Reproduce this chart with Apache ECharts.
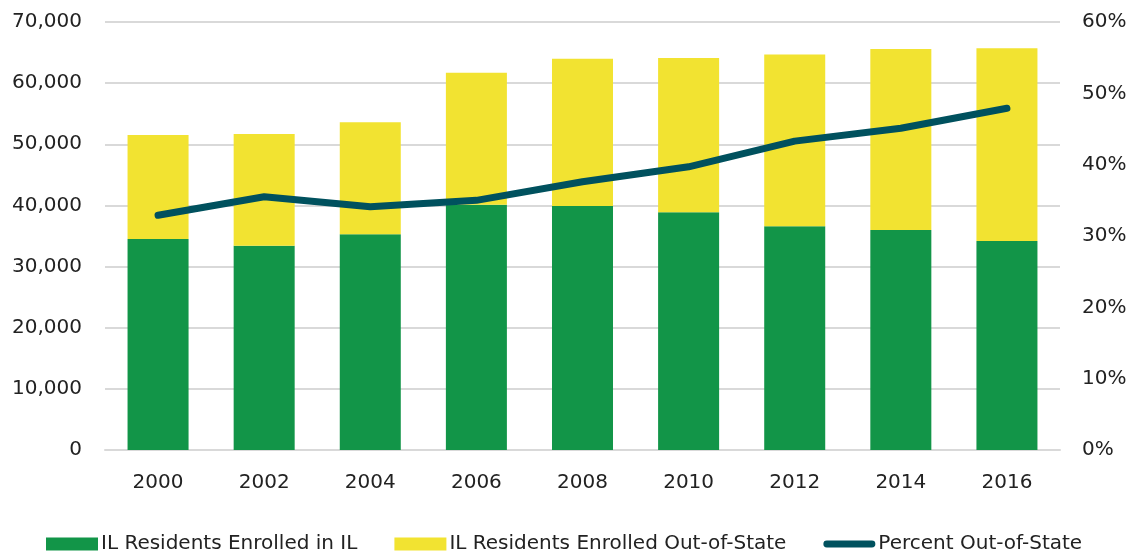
<!DOCTYPE html>
<html>
<head>
<meta charset="utf-8">
<script src="https://cdn.jsdelivr.net/npm/echarts@6/dist/echarts.min.js"></script>
<style>html,body{margin:0;padding:0;background:#fff}#c{width:1133px;height:556px}</style>
</head>
<body>
<div id="c"></div>
<script>
const years = ['2000','2002','2004','2006','2008','2010','2012','2014','2016'];
const inIL = [34500, 33400, 35300, 40100, 39900, 38900, 36600, 36000, 34200];
const outOfState = [17000, 18300, 18300, 21600, 24100, 25200, 28100, 29600, 31500];
const pctOut = [32.9, 35.5, 34.1, 35.0, 37.6, 39.7, 43.3, 45.1, 47.9];
const leftTicks = [0, 70000, 10000];
const rightTicks = [0, 60, 10];

const font = 'DejaVu Sans';
const chart = echarts.init(document.getElementById('c'));
chart.setOption({
  animation: false,
  textStyle: { fontFamily: font },
  grid: { left: 105, right: 73, top: 22, bottom: 106 },
  legend: {
    bottom: -3, left: 41, itemWidth: 52, itemHeight: 13, itemGap: 37,
    textStyle: { fontSize: 20, color: '#222', fontFamily: font, padding: [0,0,0,-2] },
    data: [
      { name: 'IL Residents Enrolled in IL', icon: 'rect' },
      { name: 'IL Residents Enrolled Out-of-State', icon: 'rect' },
      { name: 'Percent Out-of-State', icon: 'path://M4,0 L56,0 A4,4 0 0 1 56,8 L4,8 A4,4 0 0 1 4,0 Z' }
    ]
  },
  xAxis: {
    type: 'category', data: years,
    axisLine: { lineStyle: { color: '#d9d9d9', width: 2 } },
    axisTick: { show: false },
    axisLabel: { fontSize: 20, color: '#222', margin: 23, fontFamily: font }
  },
  yAxis: [
    {
      type: 'value', min: leftTicks[0], max: leftTicks[1], interval: leftTicks[2],
      axisLine: { show: false }, axisTick: { show: false },
      splitLine: { lineStyle: { color: '#d9d9d9', width: 2 } },
      axisLabel: { fontSize: 20, color: '#222', margin: 23, fontFamily: font,
        formatter: v => v.toLocaleString('en-US') }
    },
    {
      type: 'value', min: rightTicks[0], max: rightTicks[1], interval: rightTicks[2],
      axisLine: { show: false }, axisTick: { show: false }, splitLine: { show: false },
      axisLabel: { fontSize: 20, color: '#222', margin: 22, fontFamily: font,
        formatter: v => v + '%' }
    }
  ],
  series: [
    { name: 'IL Residents Enrolled in IL', type: 'bar', stack: 't', data: inIL,
      barCategoryGap: '42.5%', itemStyle: { color: '#129548' } },
    { name: 'IL Residents Enrolled Out-of-State', type: 'bar', stack: 't', data: outOfState,
      itemStyle: { color: '#f2e331' } },
    { name: 'Percent Out-of-State', type: 'line', yAxisIndex: 1, data: pctOut,
      symbol: 'none', lineStyle: { color: '#00515e', width: 7, cap: 'round', join: 'round' },
      itemStyle: { color: '#00515e' } }
  ]
});
</script>
</body>
</html>
